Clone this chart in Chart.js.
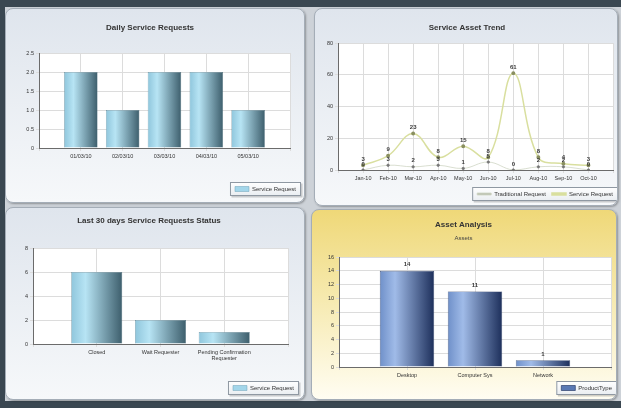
<!DOCTYPE html>
<html>
<head>
<meta charset="utf-8">
<script src="https://cdn.jsdelivr.net/npm/chart.js@4.4.0/dist/chart.umd.min.js"></script>
<style>
  body { margin: 0; width: 621px; height: 408px; background: #3a4751; position: relative; overflow: hidden; }
  #frame { position: absolute; left: 5px; top: 7px; width: 616px; height: 394px; background: #cdd2d8; }
  .panel { position: absolute; box-sizing: border-box; border: 1px solid #a4adb7; border-radius: 8px;
           background: linear-gradient(#dfe5ed, #f6f8fa); box-shadow: 1px 1px 2px rgba(0,0,0,.3); overflow: hidden; }
  .panel.gold { background: linear-gradient(#efd878 0%, #f6e9ad 45%, #fffdf2 100%); }
  .panel canvas { position: absolute; left: 0; top: 0; }
</style>
</head>
<body>
<div id="frame"></div>
<div class="panel" style="left:5px;top:8px;width:300px;height:195px"><canvas id="c1" width="300" height="195"></canvas></div>
<div class="panel" style="left:314px;top:8px;width:304px;height:198px"><canvas id="c2" width="304" height="198"></canvas></div>
<div class="panel" style="left:5px;top:207px;width:300px;height:193px"><canvas id="c3" width="300" height="193"></canvas></div>
<div class="panel gold" style="left:311px;top:209px;width:306px;height:191px"><canvas id="c4" width="306" height="191"></canvas></div>
<script>
// daily service requests
const dailyDates = ["01/03/10", "02/03/10", "03/03/10", "04/03/10", "05/03/10"];
const dailyRequests = [2, 1, 2, 2, 1];
const dailyTicks = [0, 0.5, 1, 1.5, 2, 2.5];

// service asset trend
const trendMonths = ["Jan-10", "Feb-10", "Mar-10", "Apr-10", "May-10", "Jun-10", "Jul-10", "Aug-10", "Sep-10", "Oct-10"];
const traditionalRequests = [0, 3, 2, 3, 1, 5, 0, 2, 2, 0];
const serviceRequests = [3, 9, 23, 8, 15, 8, 61, 8, 4, 3];
const trendTicks = [0, 20, 40, 60, 80];

// last 30 days status
const statusNames = ["Closed", "Wait Requester", ["Pending Confirmation", "Requester"]];
const statusCounts = [6, 2, 1];
const statusTicks = [0, 2, 4, 6, 8];

// asset analysis
const assetTypes = ["Desktop", "Computer Sys", "Network"];
const assetCounts = [14, 11, 1];
const assetTicks = [0, 2, 4, 6, 8, 10, 12, 14, 16];

Chart.defaults.font.family = '"Liberation Sans", Arial, sans-serif';
Chart.defaults.color = "#333";

const pos = function (vals) {
  return vals.map(function (v, i) { return { x: i + 1, y: v }; });
};

const barGradient = function (stops) {
  return function (ctx) {
    const chart = ctx.chart;
    const xs = chart.scales.x;
    if (!xs || ctx.dataIndex === undefined || !chart.chartArea) return stops[1];
    const c = xs.getPixelForValue(ctx.dataIndex + 1);
    const w = (xs.getPixelForValue(1) - xs.getPixelForValue(0)) * 0.8;
    const g = chart.ctx.createLinearGradient(c - w / 2, 0, c + w / 2, 0);
    g.addColorStop(0, stops[0]);
    g.addColorStop(0.28, stops[1]);
    g.addColorStop(1, stops[2]);
    return g;
  };
};

// white plot area + framed legend
const panelBits = {
  id: "panelBits",
  afterLayout(chart, args, opts) {
    const lg = chart.legend;
    if (lg && opts.shift) { lg.left += opts.shift; lg.right += opts.shift; }
  },
  beforeDraw(chart) {
    const ctx = chart.ctx, a = chart.chartArea;
    ctx.save();
    ctx.fillStyle = "#ffffff";
    ctx.fillRect(a.left, a.top, a.right - a.left, a.bottom - a.top);
    const boxes = chart.legend && chart.legend.legendHitBoxes;
    if (boxes && boxes.length) {
      let l = Infinity, r = -Infinity, t = Infinity, b = -Infinity;
      boxes.forEach(function (h) {
        l = Math.min(l, h.left); r = Math.max(r, h.left + h.width);
        t = Math.min(t, h.top); b = Math.max(b, h.top + h.height);
      });
      l -= 5; r += 5; t -= 4; b += 4;
      ctx.fillStyle = "rgba(0,0,0,0.18)";
      ctx.fillRect(l + 1.5, t + 1.5, r - l, b - t);
      const g = ctx.createLinearGradient(0, t, 0, b);
      g.addColorStop(0, "#ffffff");
      g.addColorStop(1, "#e9edf1");
      ctx.fillStyle = g;
      ctx.fillRect(l, t, r - l, b - t);
      ctx.strokeStyle = "#8f98a2";
      ctx.lineWidth = 1;
      ctx.strokeRect(l + 0.5, t + 0.5, r - l - 1, b - t - 1);
    }
    ctx.restore();
  },
};

const valueLabels = {
  id: "valueLabels",
  afterDatasetsDraw(chart, args, opts) {
    if (!opts.show) return;
    const ctx = chart.ctx;
    ctx.save();
    ctx.font = 'bold 6px "Liberation Sans", Arial, sans-serif';
    ctx.fillStyle = "#3a3a3a";
    ctx.textAlign = "center";
    ctx.textBaseline = "bottom";
    chart.data.datasets.forEach(function (ds, i) {
      chart.getDatasetMeta(i).data.forEach(function (el, j) {
        ctx.fillText(ds.data[j].y, el.x, el.y - 3);
      });
    });
    ctx.restore();
  },
};

const makeOptions = function (g, names, ticks) {
  const titleBottom = g.subtitle ? 4 : g.top - g.titleY - 4.8;
  return {
    responsive: false,
    animation: false,
    devicePixelRatio: 1,
    layout: { padding: { left: 4, right: g.w - g.right, top: 0, bottom: Math.max(0, g.h - g.legendTop - 22) } },
    scales: {
      x: {
        type: "linear",
        offset: false,
        min: 0,
        max: names.length + 1,
        afterFit: function (s) { s.height = g.legendTop - g.bottom; },
        afterBuildTicks: function (s) {
          s.ticks = [];
          for (let i = 0; i <= names.length + 1; i++) s.ticks.push({ value: i });
        },
        ticks: {
          autoSkip: false, maxRotation: 0, padding: 2,
          font: { size: 5.5 },
          callback: function (v) { return names[v - 1] || ""; },
        },
        grid: { color: "#dcdcdc", offset: false, tickLength: 3 },
        border: { color: "#6b6b6b" },
      },
      y: {
        min: ticks[0],
        max: ticks[ticks.length - 1],
        afterFit: function (s) { s.width = g.left - 4; },
        afterBuildTicks: function (s) { s.ticks = ticks.map(function (v) { return { value: v }; }); },
        ticks: { font: { size: 5.5 }, padding: 2 },
        grid: { color: "#dcdcdc", tickLength: 3 },
        border: { color: "#6b6b6b" },
      },
    },
    plugins: {
      title: {
        display: true,
        text: g.title,
        color: "#333",
        font: { size: 8, weight: "bold" },
        padding: { top: g.titleY - 4.8, bottom: titleBottom },
      },
      subtitle: g.subtitle ? {
        display: true,
        text: g.subtitle,
        color: "#444",
        font: { size: 6 },
        padding: { top: 1, bottom: g.top - 29 },
      } : { display: false },
      legend: {
        position: "bottom",
        align: "end",
        labels: {
          font: { size: 6 }, boxWidth: 14, boxHeight: g.boxH || 5, padding: 6, color: "#333",
          generateLabels: function (chart) {
            const items = Chart.defaults.plugins.legend.labels.generateLabels(chart);
            if (g.swatch) items.forEach(function (it) { it.fillStyle = g.swatch; it.strokeStyle = g.swatchLine; });
            return items;
          },
        },
      },
      tooltip: { enabled: false },
      panelBits: { shift: g.shift },
      valueLabels: { show: !!g.labels },
    },
  };
};

const blueBar = ["#8fc6dc", "#b7e4f4", "#3d5e6c"];
const navyBar = ["#6f90c9", "#a0bbe8", "#1d2f5b"];

// panel 1
new Chart(document.getElementById("c1"), {
  type: "bar",
  data: {
    datasets: [{
      label: "Service Request",
      data: pos(dailyRequests),
      backgroundColor: barGradient(blueBar),
      borderColor: "#4d6f7d",
      borderWidth: 0.5,
      categoryPercentage: 1,
      barPercentage: 0.8,
    }],
  },
  options: makeOptions({ w: 300, h: 195, left: 33, right: 284, top: 44, bottom: 139, titleY: 19, legendTop: 171,
    shift: 12, swatch: "#a3d6ea", swatchLine: "#6fa3b8", title: "Daily Service Requests" }, dailyDates, dailyTicks),
  plugins: [panelBits, valueLabels],
});

// panel 2
new Chart(document.getElementById("c2"), {
  type: "line",
  data: {
    datasets: [
      {
        label: "Traditional Request",
        data: pos(traditionalRequests),
        borderColor: "#cfd6c4",
        backgroundColor: "#b9c0b0",
        borderWidth: 0.8,
        pointRadius: 1.2,
        pointBackgroundColor: "#777",
        pointBorderColor: "#777",
        tension: 0.4,
      },
      {
        label: "Service Request",
        data: pos(serviceRequests),
        borderColor: "#d9df9f",
        backgroundColor: "#d9df9f",
        borderWidth: 1.5,
        pointRadius: 1.2,
        pointBackgroundColor: "#8a8f60",
        pointBorderColor: "#8a8f60",
        tension: 0.4,
      },
    ],
  },
  options: makeOptions({ w: 304, h: 198, left: 23, right: 300, top: 34, bottom: 161, titleY: 19, legendTop: 176,
    shift: 4, boxH: 2, labels: true, title: "Service Asset Trend" }, trendMonths, trendTicks),
  plugins: [panelBits, valueLabels],
});

// panel 3
new Chart(document.getElementById("c3"), {
  type: "bar",
  data: {
    datasets: [{
      label: "Service Request",
      data: pos(statusCounts),
      backgroundColor: barGradient(blueBar),
      borderColor: "#4d6f7d",
      borderWidth: 0.5,
      categoryPercentage: 1,
      barPercentage: 0.8,
    }],
  },
  options: makeOptions({ w: 300, h: 193, left: 27, right: 282, top: 40, bottom: 136, titleY: 13, legendTop: 171,
    shift: 12, swatch: "#a3d6ea", swatchLine: "#6fa3b8", title: "Last 30 days Service Requests Status" }, statusNames, statusTicks),
  plugins: [panelBits, valueLabels],
});

// panel 4
new Chart(document.getElementById("c4"), {
  type: "bar",
  data: {
    datasets: [{
      label: "ProductType",
      data: pos(assetCounts),
      backgroundColor: barGradient(navyBar),
      borderColor: "#24365f",
      borderWidth: 0.7,
      categoryPercentage: 1,
      barPercentage: 0.8,
    }],
  },
  options: makeOptions({ w: 306, h: 191, left: 27, right: 299, top: 44, bottom: 157, titleY: 15, legendTop: 169,
    shift: 7, swatch: "#5a79b4", swatchLine: "#2c3f6c", labels: true, subtitle: "Assets", title: "Asset Analysis" },
    assetTypes, assetTicks),
  plugins: [panelBits, valueLabels],
});
</script>
</body>
</html>
